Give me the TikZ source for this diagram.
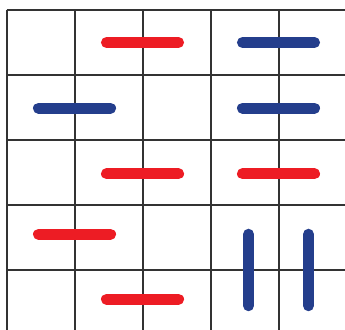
\documentclass[tikz,border=0pt]{standalone}
\definecolor{segred}{RGB}{237,28,36}
\definecolor{segblue}{RGB}{36,62,140}
\tikzset{
  gridline/.style={line width=2pt, draw=black!80},
  seg/.style={line width=11pt, line cap=round},
}
\begin{document}
\begin{tikzpicture}[x=68pt, y=-65pt]
    \useasboundingbox (-0.096,-0.154) rectangle (4.978,4.923);

    % Сетка
    \foreach \i in {0,...,4} {
        \draw[gridline] (\i,0) -- (\i,4.923);
        \draw[gridline] (0,\i) -- (4.978,\i);
    }

    % Красные отрезки
    \draw[seg, segred] (1.47,0.50) -- (2.53,0.50);
    \draw[seg, segred] (1.47,2.52) -- (2.53,2.52);
    \draw[seg, segred] (3.47,2.52) -- (4.53,2.52);
    \draw[seg, segred] (0.47,3.45) -- (1.53,3.45);
    \draw[seg, segred] (1.47,4.45) -- (2.53,4.45);

    % Синие отрезки
    \draw[seg, segblue] (3.47,0.50) -- (4.53,0.50);
    \draw[seg, segblue] (0.47,1.51) -- (1.53,1.51);
    \draw[seg, segblue] (3.47,1.51) -- (4.53,1.51);
    \draw[seg, segblue] (3.56,3.45) -- (3.56,4.55);
    \draw[seg, segblue] (4.44,3.45) -- (4.44,4.55);
\end{tikzpicture}
\end{document}
